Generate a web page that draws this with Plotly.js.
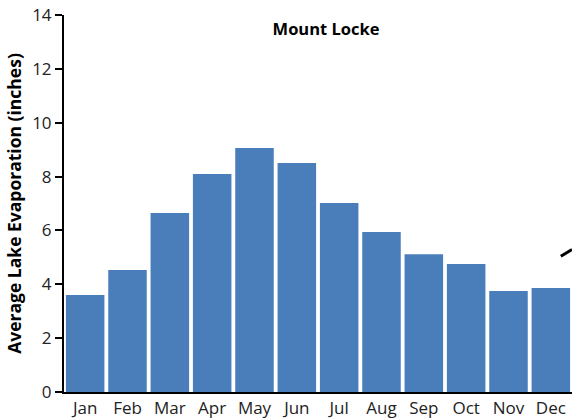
<!DOCTYPE html>
<html><head><meta charset="utf-8">
<script src="https://cdn.plot.ly/plotly-3.0.1.min.js"></script>
<style>html,body{margin:0;padding:0;background:#fff}#chart{width:572px;height:418px}</style>
</head><body><div id="chart"></div>
<script>
const months = ["Jan","Feb","Mar","Apr","May","Jun","Jul","Aug","Sep","Oct","Nov","Dec"];
const evaporation = [3.6,4.53,6.65,8.1,9.06,8.5,7.02,5.94,5.12,4.75,3.75,3.86];
const yTicks = [0,2,4,6,8,10,12,14];

const font = "'Open Sans', 'Liberation Sans', sans-serif";
Plotly.newPlot('chart', [{
  type: 'bar', x: months, y: evaporation,
  marker: {color: '#4a7ebb', line: {width: 0}},
  hoverinfo: 'none'
}], {
  width: 572, height: 418,
  margin: {l: 64, r: 0, t: 15, b: 26},
  paper_bgcolor: '#fff', plot_bgcolor: '#fff',
  bargap: 0.09,
  showlegend: false,
  font: {family: font, color: '#000'},
  title: {text: '<b>Mount Locke</b>', font: {size: 16.5, family: font, color: '#000'}, x: 0.57, xanchor: 'center', y: 0.93, yanchor: 'middle'},
  xaxis: {
    showline: true, linecolor: '#000', linewidth: 2, ticks: '', showgrid: false,
    tickfont: {size: 17, family: font, color: '#222'}, zeroline: false
  },
  yaxis: {
    range: [0, 14], tickvals: yTicks, ticktext: yTicks.map(String),
    showline: true, linecolor: '#000', linewidth: 2, ticks: 'outside', ticklen: 7, tickwidth: 2, tickcolor: '#000',
    showgrid: false, zeroline: false,
    tickfont: {size: 17, family: font, color: '#222'},
    title: {text: '<b>Average Lake Evaporation (inches)</b>', font: {size: 17.5, family: font, color: '#000'}, standoff: 6}
  },
  shapes: [{type: 'line', xref: 'paper', yref: 'paper', x0: 0.978, y0: 0.36, x1: 1.0, y1: 0.378, line: {color: '#000', width: 3}}]
}, {staticPlot: true});
</script></body></html>
